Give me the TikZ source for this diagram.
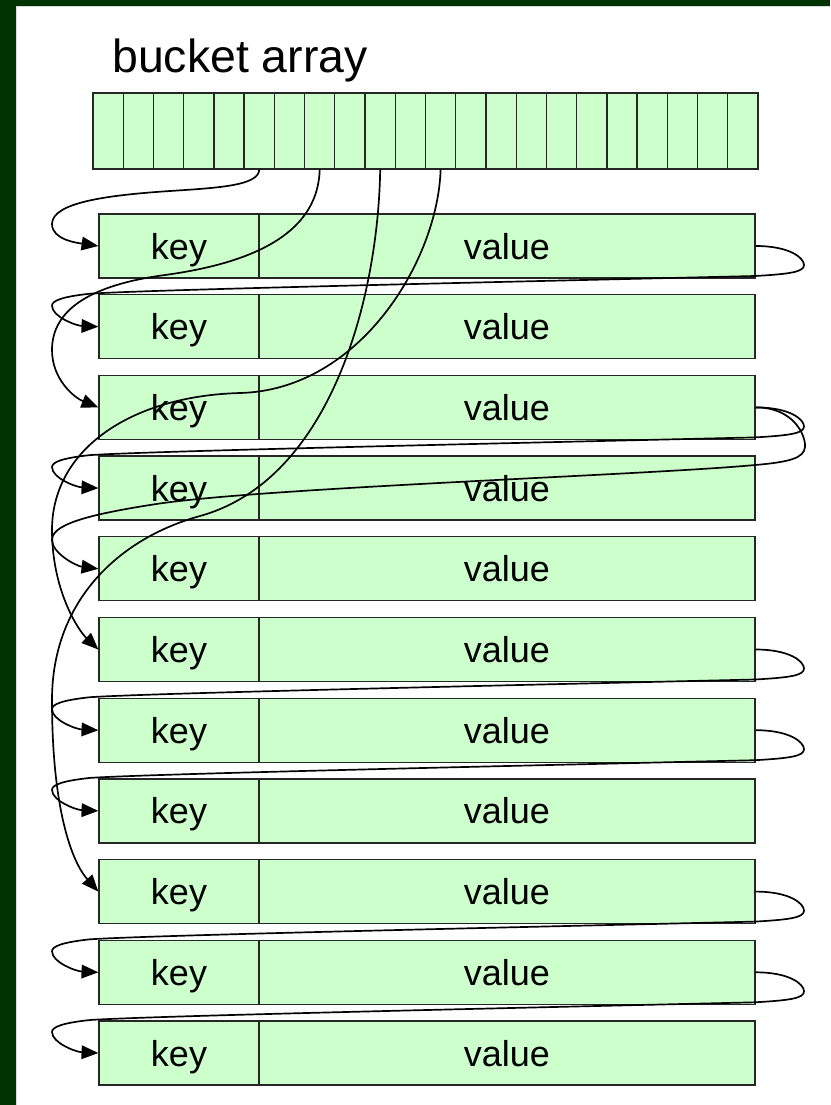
\documentclass[tikz,border=0pt]{standalone}
\usepackage{fontspec}
\setmainfont{Liberation Sans}
\usetikzlibrary{arrows.meta}

\definecolor{slidegreen}{RGB}{0,51,0}
\definecolor{cellgreen}{RGB}{204,255,204}

\begin{document}
\begin{tikzpicture}[x=0.025cm,y=-0.025cm]

      \useasboundingbox (0,0) rectangle (830,1105);
      \fill[slidegreen] (0,0) rectangle (830,1105);
      \fill[white] (16,6) rectangle (830,1105);
      \draw[black!15,line width=0.8pt] (16.5,1105) -- (16.5,6.5) -- (830,6.5);

      \node[anchor=base west,inner sep=0pt,font=\fontsize{33}{40}\selectfont] (title) at (112,72) {bucket array};

      \begin{scope}[every node/.style={draw=black!85,fill=cellgreen,line width=0.9pt,inner sep=0pt,minimum width=0.7557cm,minimum height=1.9cm}]
        \node (b1) at (108.1,131) {};
        \node (b2) at (138.3,131) {};
        \node (b3) at (168.6,131) {};
        \node (b4) at (198.8,131) {};
        \node (b5) at (229.0,131) {};
        \node (b6) at (259.2,131) {};
        \node (b7) at (289.5,131) {};
        \node (b8) at (319.7,131) {};
        \node (b9) at (349.9,131) {};
        \node (b10) at (380.2,131) {};
        \node (b11) at (410.4,131) {};
        \node (b12) at (440.6,131) {};
        \node (b13) at (470.8,131) {};
        \node (b14) at (501.1,131) {};
        \node (b15) at (531.3,131) {};
        \node (b16) at (561.5,131) {};
        \node (b17) at (591.7,131) {};
        \node (b18) at (622.0,131) {};
        \node (b19) at (652.2,131) {};
        \node (b20) at (682.4,131) {};
        \node (b21) at (712.7,131) {};
        \node (b22) at (742.9,131) {};
      \end{scope}

      \begin{scope}[every node/.style={draw=black!85,fill=cellgreen,line width=0.9pt,inner sep=0pt,
          minimum height=1.6cm,text depth=0pt,font=\fontsize{25.6}{30}\selectfont}]

        \begin{scope}[every node/.append style={minimum width=4cm}]
          \node (k1) at (179,246) {key};
          \node (k2) at (179,326.7) {key};
          \node (k3) at (179,407.4) {key};
          \node (k4) at (179,488.1) {key};
          \node (k5) at (179,568.8) {key};
          \node (k6) at (179,649.5) {key};
          \node (k7) at (179,730.2) {key};
          \node (k8) at (179,810.9) {key};
          \node (k9) at (179,891.6) {key};
          \node (k10) at (179,972.3) {key};
          \node (k11) at (179,1053) {key};
        \end{scope}

        \begin{scope}[every node/.append style={minimum width=12.4cm}]
          \node (v1) at (507,246) {value};
          \node (v2) at (507,326.7) {value};
          \node (v3) at (507,407.4) {value};
          \node (v4) at (507,488.1) {value};
          \node (v5) at (507,568.8) {value};
          \node (v6) at (507,649.5) {value};
          \node (v7) at (507,730.2) {value};
          \node (v8) at (507,810.9) {value};
          \node (v9) at (507,891.6) {value};
          \node (v10) at (507,972.3) {value};
          \node (v11) at (507,1053) {value};
        \end{scope}

      \end{scope}

      \begin{scope}[->,>={Triangle[length=0.42cm,width=0.34cm]},line width=1.2pt]

        % from the buckets
        \draw (b6.south) .. controls (259,186) and (215,188) .. (170,191)
          .. controls (110,195) and (52,202) .. (52,224)
          .. controls (52,240) and (78,243) .. (k1.west);
        \draw (b8.south) .. controls (318,230) and (260,262) .. (165,275)
          .. controls (90,285) and (52,310) .. (52,350)
          .. controls (52,380) and (75,398) .. (k3.west);
        \draw (b10.south) .. controls (378,300) and (330,480) .. (200,516)
          .. controls (120,538) and (52,600) .. (52,700)
          .. controls (52,810) and (72,862) .. (k9.west);
        \draw (b12.south) .. controls (438,260) and (360,390) .. (240,393)
          .. controls (130,396) and (52,450) .. (52,530)
          .. controls (52,590) and (78,630) .. (k6.west);

        % next links
        \draw (v1.east) .. controls (790,246) and (804,258) .. (804,265)
          .. controls (804,272) and (790,274) .. (755,276)
          .. controls (500,282) and (150,289.7) .. (90,293.7)
          .. controls (62,296.7) and (52,300.7) .. (52,305.7)
          .. controls (52,316.7) and (76,325.7) .. (k2.west);
        \draw (v3.east) .. controls (790,407.4) and (804,419.4) .. (804,426.4)
          .. controls (804,433.4) and (790,435.4) .. (755,437.4)
          .. controls (500,443.4) and (150,451.1) .. (90,455.1)
          .. controls (62,458.1) and (52,462.1) .. (52,467.1)
          .. controls (52,478.1) and (76,487.1) .. (k4.west);
        \draw (v3.east) .. controls (795,407.4) and (806,437) .. (805,447)
          .. controls (804,458) and (790,462) .. (755,465)
          .. controls (650,475) and (250,488) .. (150,505)
          .. controls (80,516) and (52,526) .. (52,540)
          .. controls (52,553) and (76,566) .. (k5.west);
        \draw (v6.east) .. controls (790,649.5) and (804,661.5) .. (804,668.5)
          .. controls (804,675.5) and (790,677.5) .. (755,679.5)
          .. controls (500,685.5) and (150,693.2) .. (90,697.2)
          .. controls (62,700.2) and (52,704.2) .. (52,709.2)
          .. controls (52,720.2) and (76,729.2) .. (k7.west);
        \draw (v7.east) .. controls (790,730.2) and (804,742.2) .. (804,749.2)
          .. controls (804,756.2) and (790,758.2) .. (755,760.2)
          .. controls (500,766.2) and (150,773.9) .. (90,777.9)
          .. controls (62,780.9) and (52,784.9) .. (52,789.9)
          .. controls (52,800.9) and (76,809.9) .. (k8.west);
        \draw (v9.east) .. controls (790,891.6) and (804,903.6) .. (804,910.6)
          .. controls (804,917.6) and (790,919.6) .. (755,921.6)
          .. controls (500,927.6) and (150,935.3) .. (90,939.3)
          .. controls (62,942.3) and (52,946.3) .. (52,951.3)
          .. controls (52,962.3) and (76,971.3) .. (k10.west);
        \draw (v10.east) .. controls (790,972.3) and (804,984.3) .. (804,991.3)
          .. controls (804,998.3) and (790,1000.3) .. (755,1002.3)
          .. controls (500,1008.3) and (150,1016) .. (90,1020)
          .. controls (62,1023) and (52,1027) .. (52,1032)
          .. controls (52,1043) and (76,1052) .. (k11.west);

      \end{scope}

    \end{tikzpicture}
\end{document}
